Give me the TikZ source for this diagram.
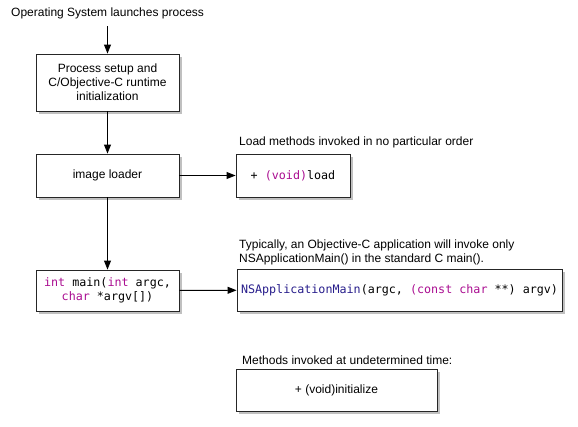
\documentclass[tikz,border=0pt]{standalone}
\usepackage{fontspec}
\setmainfont{Liberation Sans}
\newfontfamily\codefont{DejaVu Sans Mono}
\usetikzlibrary{arrows.meta,shadows}
\definecolor{kw}{RGB}{170,13,145}
\definecolor{fn}{RGB}{40,30,140}
\newcommand{\kwd}[1]{\textcolor{kw}{#1}}
\newcommand{\fnm}[1]{\textcolor{fn}{#1}}
\tikzset{
  box/.style={draw=black!85, line width=0.9pt, fill=white, align=center,
    inner sep=2pt, font=\fontsize{12}{14}\selectfont,
    drop shadow={shadow xshift=2.5pt, shadow yshift=-2.5pt, opacity=0.45, fill=black!55}},
  codebox/.style={box, font=\codefont\fontsize{11.7}{13.5}\selectfont},
  lbl/.style={inner sep=0pt, align=left, font=\fontsize{12}{14}\selectfont},
  arr/.style={-{Triangle[length=9pt,width=7pt]}, line width=0.9pt}
}
\begin{document}
\begin{tikzpicture}[x=1pt,y=-1pt]
\useasboundingbox (0,0) rectangle (578,426);
\node[lbl, anchor=west] (title) at (11,13) {Operating System launches process};
\node[box, minimum width=143, minimum height=57] (p1) at (107.5,82.5)
  {Process setup and\\C/Objective-C runtime\\initialization};
\node[box, minimum width=143, minimum height=43] (p2) at (107.5,175.5) {image loader};
\node[codebox, minimum width=114, minimum height=43] (p3) at (293,175.5)
  {+ \kwd{(void)}load};
\node[codebox, minimum width=143, minimum height=41] (p4) at (107.5,290.5)
  {\kwd{int} main(\kwd{int} argc,\\\kwd{char} *argv[])};
\node[codebox, minimum width=325, minimum height=42] (p5) at (399.5,290)
  {\fnm{NSApplicationMain}(argc, \kwd{(const char} **) argv)};
\node[box, minimum width=201, minimum height=42] (p6) at (336.5,390)
  {+ (void)initialize};
\node[lbl, anchor=west] (l3) at (239,142) {Load methods invoked in no particular order};
\node[lbl, anchor=west] (l5) at (239,252.5)
  {Typically, an Objective-C application will invoke only\\NSApplicationMain() in the standard C main().};
\node[lbl, anchor=west] (l6) at (242,360) {Methods invoked at undetermined time:};
\coordinate (t0) at (107.5,26);
\draw[arr] (t0) -- (p1.north);
\draw[arr] (p1) -- (p2);
\draw[arr] (p2) -- (p4);
\draw[arr] (p2) -- (p3);
\draw[arr] (p4) -- (p5);
\end{tikzpicture}
\end{document}
